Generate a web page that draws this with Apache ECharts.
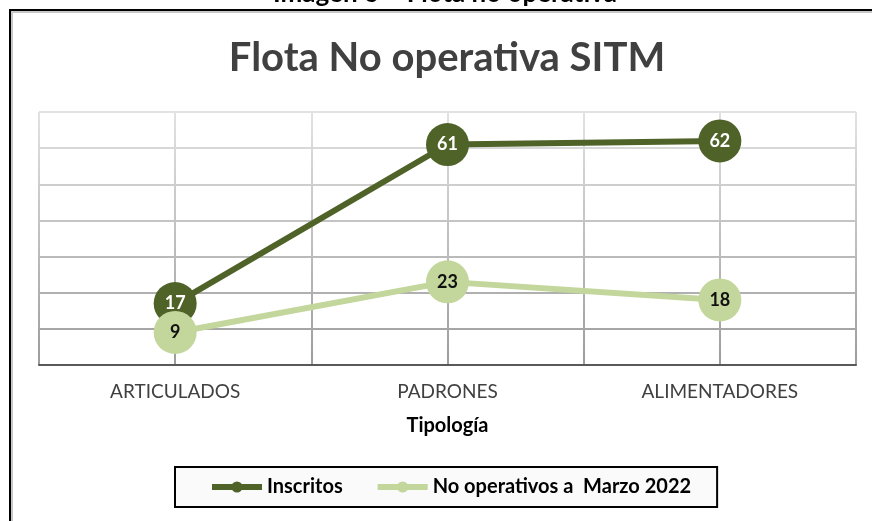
<!DOCTYPE html>
<html>
<head>
<meta charset="utf-8">
<script src="https://cdn.jsdelivr.net/npm/echarts@6/dist/echarts.min.js"></script>
<style>
  html, body { margin: 0; background: #fff; }
  #chart { width: 872px; height: 521px; }
</style>
</head>
<body>
<div id="chart"></div>
<script>
const categories = ['ARTICULADOS', 'PADRONES', 'ALIMENTADORES']
const inscritos = [17, 61, 62]
const noOperativos = [9, 23, 18]
const seriesNames = ['Inscritos', 'No operativos a  Marzo 2022']
const yMax = 70
const yStep = 10
const halfSlots = 6 // excel pone una linea vertical cada media categoria

const FONT = 'Lato, "Open Sans", sans-serif'
const DARK = '#4f6228'
const LIGHT = '#c3d69b'

const chart = echarts.init(document.getElementById('chart'))

// lineas de la grilla mas claras arriba y mas oscuras abajo
const gridColor = new echarts.graphic.LinearGradient(0, 112, 0, 365, [
  { offset: 0, color: '#e2e2e2' },
  { offset: 1, color: '#9c9c9c' }
], true)

const pointLabel = (color) => ({
  show: true,
  position: 'inside',
  color,
  fontFamily: FONT,
  fontWeight: 'bold',
  fontSize: 18
})

chart.setOption({
  backgroundColor: '#fff',
  animation: false,
  graphic: [
    { type: 'rect', shape: { x: 12, y: 12, width: 900, height: 560 }, style: { fill: 'none', stroke: '#c8c8c8', lineWidth: 2 }, silent: true },
    { type: 'rect', shape: { x: 10, y: 10, width: 900, height: 560 }, style: { fill: 'none', stroke: '#000', lineWidth: 2 }, silent: true },
    {
      type: 'text',
      style: { text: 'Imagen 6 – Flota no operativa', x: 445, y: 7, align: 'center', verticalAlign: 'bottom', font: 'bold 26px ' + FONT, fill: '#000' },
      silent: true
    },
    {
      type: 'text',
      style: { text: 'Flota No operativa SITM', x: 447, y: 58, align: 'center', verticalAlign: 'middle', font: 'bold 40px ' + FONT, fill: '#404040' },
      silent: true
    }
  ],
  grid: { left: 39, right: 16, top: 112, bottom: 156 },
  legend: {
    data: seriesNames,
    left: 175,
    top: 467,
    padding: [10, 26, 10, 34],
    itemWidth: 50,
    itemHeight: 14,
    itemGap: 32,
    borderColor: '#000',
    borderWidth: 2,
    backgroundColor: '#fafafa',
    selectedMode: false,
    lineStyle: { width: 6 },
    textStyle: { fontFamily: FONT, fontWeight: 'bold', fontSize: 20, color: '#000' }
  },
  xAxis: [
    {
      type: 'category',
      data: categories,
      boundaryGap: true,
      name: 'Tipología',
      nameLocation: 'middle',
      nameGap: 51,
      nameTextStyle: { fontFamily: FONT, fontWeight: 'bold', fontSize: 20, color: '#000' },
      axisLine: { lineStyle: { color: '#595959', width: 2 } },
      axisTick: { show: false },
      axisLabel: { fontFamily: FONT, fontSize: 19, color: '#404040', margin: 17 },
      splitLine: { show: false }
    },
    {
      // eje oculto solo para las lineas verticales
      type: 'value',
      min: 0,
      max: halfSlots,
      interval: 1,
      axisLine: { show: false },
      axisTick: { show: false },
      axisLabel: { show: false },
      splitLine: { show: true, lineStyle: { color: gridColor, width: 2 } }
    }
  ],
  yAxis: {
    type: 'value',
    min: 0,
    max: yMax,
    interval: yStep,
    axisLine: { show: false },
    axisTick: { show: false },
    axisLabel: { show: false },
    splitLine: { lineStyle: { color: gridColor, width: 2 } }
  },
  series: [
    {
      name: seriesNames[0],
      type: 'line',
      data: inscritos,
      symbol: 'circle',
      symbolSize: 43,
      lineStyle: { color: DARK, width: 6 },
      itemStyle: { color: DARK },
      label: pointLabel('#fff'),
      emphasis: { disabled: true }
    },
    {
      name: seriesNames[1],
      type: 'line',
      data: noOperativos,
      symbol: 'circle',
      symbolSize: 43,
      lineStyle: { color: LIGHT, width: 6 },
      itemStyle: { color: LIGHT },
      label: pointLabel('#111'),
      emphasis: { disabled: true }
    }
  ]
})
</script>
</body>
</html>
